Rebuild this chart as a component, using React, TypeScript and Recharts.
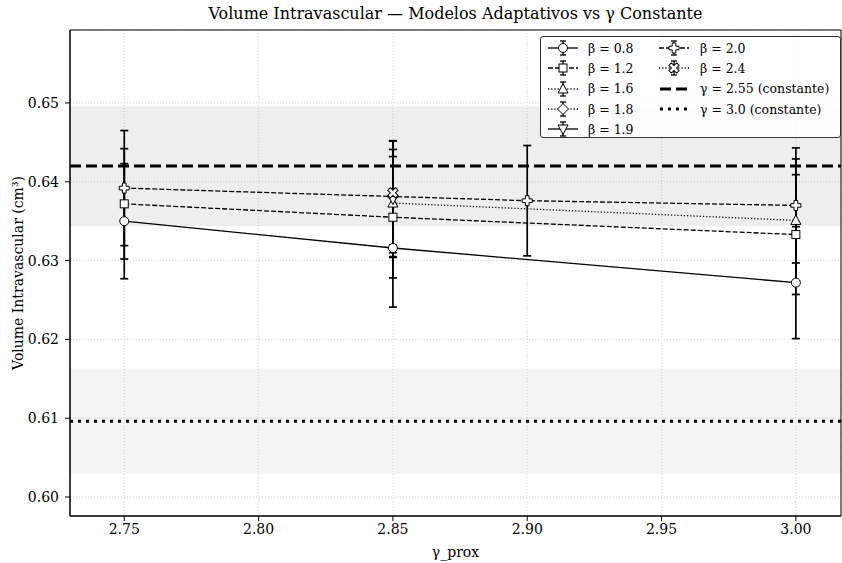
import React from 'react';
import {
  ComposedChart, Line, XAxis, YAxis, CartesianGrid, ReferenceLine, ReferenceArea, ErrorBar, Legend,
} from 'recharts';

// ---- data ----
const xTicks = [2.75, 2.8, 2.85, 2.9, 2.95, 3.0];
const yTicks = [0.6, 0.61, 0.62, 0.63, 0.64, 0.65];

const beta08 = [
  { x: 2.75, y: 0.635, err: 0.0073 },
  { x: 2.85, y: 0.6316, err: 0.0075 },
  { x: 3.0, y: 0.6272, err: 0.0071 },
];
const beta12 = [
  { x: 2.75, y: 0.6372, err: 0.007 },
  { x: 2.85, y: 0.6355, err: 0.0077 },
  { x: 3.0, y: 0.6333, err: 0.0076 },
];
const beta16 = [
  { x: 2.85, y: 0.6373, err: 0.0068 },
  { x: 3.0, y: 0.6351, err: 0.0078 },
];
const beta18 = [{ x: 2.85, y: 0.6381, err: 0.0071 }];
const beta19 = [{ x: 2.85, y: 0.6378, err: 0.0074 }];
const beta20 = [
  { x: 2.75, y: 0.6392, err: 0.0073 },
  { x: 2.9, y: 0.6376, err: 0.007 },
  { x: 3.0, y: 0.637, err: 0.0073 },
];
const beta24 = [{ x: 2.85, y: 0.6386, err: 0.0066 }];

const const255 = { value: 0.642, low: 0.6344, high: 0.6496 };
const const30 = { value: 0.6096, low: 0.6029, high: 0.6163 };

const seriesNames = ['β = 0.8', 'β = 1.2', 'β = 1.6', 'β = 1.8', 'β = 1.9', 'β = 2.0', 'β = 2.4'];
const constNames = ['γ = 2.55 (constante)', 'γ = 3.0 (constante)'];

// ---- styling ----
const FONT = "'DejaVu Serif', serif";
const xDomain = [2.7298, 3.0168];
const yDomain = [0.59759, 0.65926];

type Shape = 'circle' | 'square' | 'tri-up' | 'diamond' | 'tri-down' | 'plus' | 'x';

const series = [
  { name: seriesNames[0], data: beta08, shape: 'circle' as Shape, dash: undefined },
  { name: seriesNames[1], data: beta12, shape: 'square' as Shape, dash: '5 2' },
  { name: seriesNames[2], data: beta16, shape: 'tri-up' as Shape, dash: '1.2 2' },
  { name: seriesNames[3], data: beta18, shape: 'diamond' as Shape, dash: '1.2 2' },
  { name: seriesNames[4], data: beta19, shape: 'tri-down' as Shape, dash: undefined },
  { name: seriesNames[5], data: beta20, shape: 'plus' as Shape, dash: '5 2' },
  { name: seriesNames[6], data: beta24, shape: 'x' as Shape, dash: '1.2 2' },
];

function plusPoints(cx: number, cy: number, a: number, b: number) {
  const pts = [
    [-a, -b], [a, -b], [a, -a], [b, -a], [b, a], [a, a], [a, b], [-a, b], [-a, a], [-b, a], [-b, -a], [-a, -a],
  ];
  return pts.map(([px, py]) => `${cx + px},${cy + py}`).join(' ');
}

function Marker({ shape, cx, cy }: { shape: Shape; cx: number; cy: number }) {
  const common = { fill: '#fff', stroke: '#000', strokeWidth: 1 };
  switch (shape) {
    case 'circle':
      return <circle cx={cx} cy={cy} r={4.5} {...common} />;
    case 'square':
      return <rect x={cx - 4} y={cy - 4} width={8} height={8} {...common} />;
    case 'tri-up':
      return <polygon points={`${cx},${cy - 5.5} ${cx - 5},${cy + 4} ${cx + 5},${cy + 4}`} {...common} />;
    case 'tri-down':
      return <polygon points={`${cx},${cy + 5.5} ${cx - 5},${cy - 4} ${cx + 5},${cy - 4}`} {...common} />;
    case 'diamond':
      return <polygon points={`${cx},${cy - 5.5} ${cx + 5.5},${cy} ${cx},${cy + 5.5} ${cx - 5.5},${cy}`} {...common} />;
    case 'plus':
      return <polygon points={plusPoints(cx, cy, 1.8, 5)} {...common} />;
    case 'x':
      return <polygon points={plusPoints(cx, cy, 1.8, 5.5)} transform={`rotate(45 ${cx} ${cy})`} {...common} />;
  }
  return null;
}

const makeDot = (shape: Shape) => (props: any) => {
  const { cx, cy, index } = props;
  if (cx == null || cy == null) return <g key={`d-${index}`} />;
  return (
    <g key={`d-${shape}-${index}`}>
      <Marker shape={shape} cx={cx} cy={cy} />
    </g>
  );
};

function LegendIcon({ shape, dash }: { shape: Shape; dash?: string }) {
  return (
    <svg width={30} height={16} style={{ display: 'block' }}>
      <line x1={0} y1={8} x2={30} y2={8} stroke="#000" strokeWidth={1.3} strokeDasharray={dash} />
      <line x1={15} y1={1} x2={15} y2={15} stroke="#000" strokeWidth={1.3} />
      <line x1={12} y1={1} x2={18} y2={1} stroke="#000" strokeWidth={1.3} />
      <line x1={12} y1={15} x2={18} y2={15} stroke="#000" strokeWidth={1.3} />
      <Marker shape={shape} cx={15} cy={8} />
    </svg>
  );
}

function ConstIcon({ dash }: { dash: string }) {
  return (
    <svg width={30} height={16} style={{ display: 'block' }}>
      <line x1={1} y1={8} x2={30} y2={8} stroke="#000" strokeWidth={3} strokeDasharray={dash} />
    </svg>
  );
}

function LegendBox() {
  const row = (icon: React.ReactNode, label: string, key: string, gap: number) => (
    <div key={key} style={{ display: 'flex', alignItems: 'center', height: 20.3 }}>
      <div style={{ width: 30, marginRight: gap }}>{icon}</div>
      <span style={{ whiteSpace: 'nowrap' }}>{label}</span>
    </div>
  );
  const col1 = series.slice(0, 5).map((s) => row(<LegendIcon shape={s.shape} dash={s.dash} />, s.name, s.name, 10));
  const col2 = [
    ...series.slice(5).map((s) => row(<LegendIcon shape={s.shape} dash={s.dash} />, s.name, s.name, 11)),
    row(<ConstIcon dash="11 5" />, constNames[0], constNames[0], 11),
    row(<ConstIcon dash="3 5" />, constNames[1], constNames[1], 11),
  ];
  return (
    <div
      style={{
        display: 'flex',
        fontFamily: FONT,
        fontSize: 12.5,
        color: '#000',
        background: 'rgba(255,255,255,0.85)',
        border: '1px solid #333',
        borderRadius: 3,
        padding: '1px 2px 1px 7px',
        boxSizing: 'border-box',
        width: 301,
        height: 102,
      }}
    >
      <div style={{ width: 111 }}>{col1}</div>
      <div>{col2}</div>
    </div>
  );
}

const tickStyle = { fill: '#000', fontFamily: FONT, fontSize: 14 };

export default function App() {
  return (
    <div style={{ position: 'absolute', left: 0, top: 0, width: 842, height: 563, background: '#fff' }}>
      <div
        style={{
          position: 'absolute', left: 60, width: 791, top: 4, textAlign: 'center',
          fontFamily: FONT, fontSize: 16, lineHeight: '20px', color: '#000', whiteSpace: 'nowrap',
        }}
      >
        Volume Intravascular — Modelos Adaptativos vs γ Constante
      </div>
      <ComposedChart width={842} height={563} margin={{ top: 30, right: 1, bottom: 0, left: 0 }}>
        <CartesianGrid stroke="#c8c8c8" strokeDasharray="1 2" strokeWidth={0.8} />
        <XAxis
          dataKey="x"
          type="number"
          domain={xDomain}
          allowDataOverflow
          ticks={xTicks}
          tickFormatter={(v: number) => v.toFixed(2)}
          height={47}
          tickSize={5}
          tickMargin={3}
          stroke="#000"
          tick={tickStyle}
          label={{ value: 'γ_prox', position: 'insideBottom', offset: 6, fill: '#000', fontFamily: FONT, fontSize: 14 }}
        />
        <YAxis
          type="number"
          domain={yDomain}
          allowDataOverflow
          ticks={yTicks}
          tickFormatter={(v: number) => v.toFixed(2)}
          width={70}
          tickSize={5}
          tickMargin={6}
          stroke="#000"
          tick={tickStyle}
          label={{
            content: () => (
              <text
                x={18}
                y={273}
                transform="rotate(-90 18 273)"
                textAnchor="middle"
                dominantBaseline="central"
                fontFamily={FONT}
                fontSize={14}
                fill="#000"
              >
                Volume Intravascular (cm³)
              </text>
            ),
          }}
        />
        <ReferenceArea y1={const255.low} y2={const255.high} fill="#000" fillOpacity={0.068} stroke="none" ifOverflow="hidden" />
        <ReferenceArea y1={const30.low} y2={const30.high} fill="#000" fillOpacity={0.04} stroke="none" ifOverflow="hidden" />
        {series.map((s) => (
          <Line
            key={s.name}
            data={s.data}
            dataKey="y"
            name={s.name}
            stroke="#000"
            strokeWidth={1.3}
            strokeDasharray={s.dash}
            dot={makeDot(s.shape)}
            activeDot={false}
            isAnimationActive={false}
            legendType="none"
          >
            <ErrorBar dataKey="err" width={4} stroke="#000" strokeWidth={1.7} direction="y" isAnimationActive={false} />
          </Line>
        ))}
        <ReferenceLine y={const255.value} stroke="#000" strokeWidth={3} strokeDasharray="11 5" />
        <ReferenceLine y={const30.value} stroke="#000" strokeWidth={3} strokeDasharray="3 5" />
        <ReferenceArea x1={xDomain[0]} x2={xDomain[1]} y1={yDomain[0]} y2={yDomain[1]} fill="none" stroke="#000" strokeWidth={1} ifOverflow="visible" />
        <Legend
          layout="vertical"
          align="center"
          verticalAlign="middle"
          content={() => <LegendBox />}
          wrapperStyle={{ position: 'absolute', left: 540, top: 36, width: 301, height: 102 }}
        />
      </ComposedChart>
    </div>
  );
}
